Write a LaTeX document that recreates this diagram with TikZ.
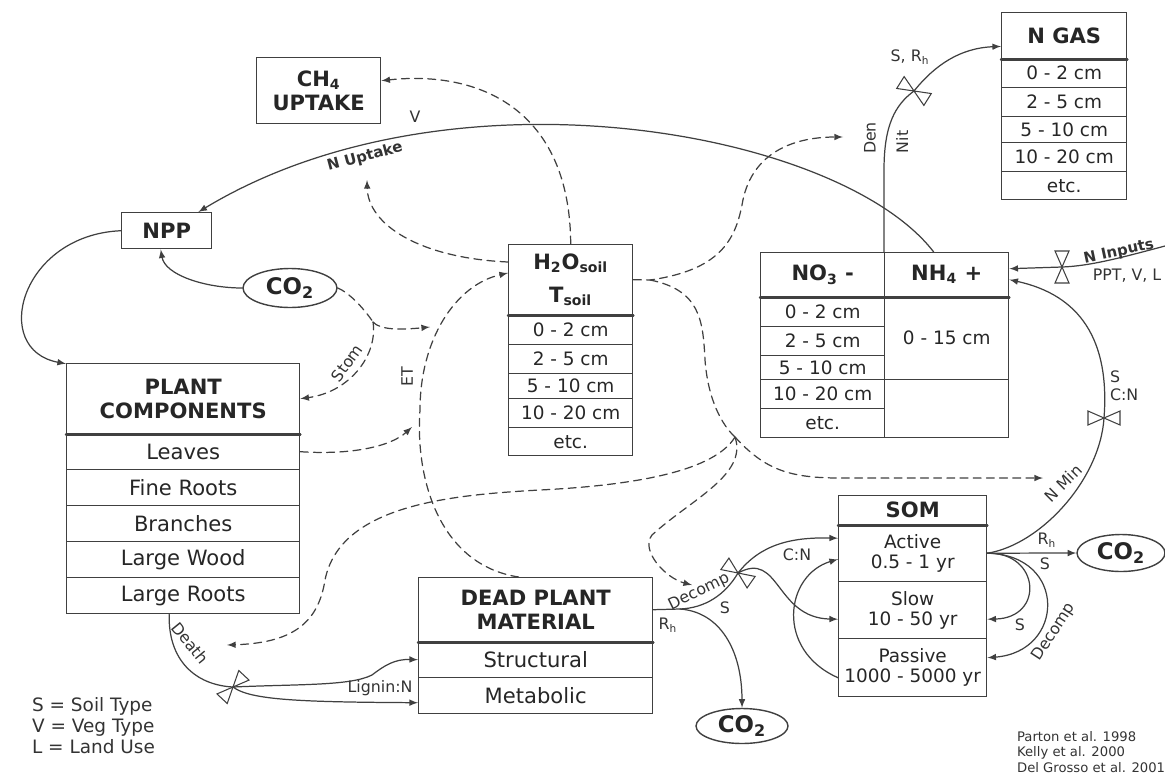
\documentclass[tikz,border=0pt]{standalone}
\usepackage{fontspec}
\setmainfont{DejaVu Sans}
\usetikzlibrary{shapes.geometric}

\begin{document}
\begin{tikzpicture}[
    x=0.02cm, y=-0.02cm, % one unit = one pixel of the sketch
    >=latex,
    line cap=round,
    cell/.style={draw=boxline, line width=0.8pt, inner sep=0pt, anchor=north west, align=center, text=black!85},
    headcell/.style={cell, font=\fontsize{12}{13.6}\selectfont\bfseries},
    rowcell/.style={cell, font=\fontsize{12}{13.6}\selectfont},
    depthcell/.style={cell, font=\fontsize{10.5}{11.6}\selectfont},
    gas/.style={ellipse, draw=boxline, line width=0.8pt, inner sep=0pt, text=black!85, font=\fontsize{13}{14}\selectfont\bfseries},
    flow/.style={draw=boxline, line width=0.7pt},
    ctrl/.style={draw=boxline, line width=0.7pt, dash pattern=on 4.5pt off 3pt},
    lbl/.style={text=black!80, font=\fontsize{9}{10}\selectfont, inner sep=1pt},
    valvestyle/.style={draw=boxline, fill=white, line width=0.6pt}
]

% --- 1. SETTINGS & COLORS ---
\colorlet{boxline}{black!75}
\useasboundingbox (0,0) rectangle (1165,774);

% --- 2. POOLS ---
% Methane and production
\node[headcell, minimum width=2.48cm, minimum height=1.32cm] (ch4) at (256,57) {CH\textsubscript{4}\\UPTAKE};
\node[headcell, minimum width=1.8cm, minimum height=0.72cm] (npp) at (121,212) {NPP};
\node[gas, minimum width=1.88cm, minimum height=0.78cm] (co2a) at (290,288) {CO\textsubscript{2}};

% Soil water and temperature
\node[headcell, minimum width=2.48cm, minimum height=1.4cm, font=\fontsize{12}{18.8}\selectfont\bfseries] (h2o) at (508,244) {H\textsubscript{2}O\textsubscript{soil}\\T\textsubscript{soil}};
\node[depthcell, minimum width=2.48cm, minimum height=0.6cm] (h2oa) at (508,314) {0 - 2 cm};
\node[depthcell, minimum width=2.48cm, minimum height=0.58cm] (h2ob) at (508,344) {2 - 5 cm};
\node[depthcell, minimum width=2.48cm, minimum height=0.5cm] (h2oc) at (508,373) {5 - 10 cm};
\node[depthcell, minimum width=2.48cm, minimum height=0.58cm] (h2od) at (508,398) {10 - 20 cm};
\node[depthcell, minimum width=2.48cm, minimum height=0.56cm] (h2oe) at (508,427) {etc.};

% Mineral nitrogen
\node[headcell, minimum width=2.48cm, minimum height=0.88cm] (no3) at (760,252) {NO\textsubscript{3} -};
\node[headcell, minimum width=2.48cm, minimum height=0.88cm] (nh4) at (884,252) {NH\textsubscript{4} +};
\node[depthcell, minimum width=2.48cm, minimum height=0.6cm] (no3a) at (760,296) {0 - 2 cm};
\node[depthcell, minimum width=2.48cm, minimum height=0.58cm] (no3b) at (760,326) {2 - 5 cm};
\node[depthcell, minimum width=2.48cm, minimum height=0.48cm] (no3c) at (760,355) {5 - 10 cm};
\node[depthcell, minimum width=2.48cm, minimum height=0.58cm] (no3d) at (760,379) {10 - 20 cm};
\node[depthcell, minimum width=2.48cm, minimum height=0.58cm] (no3e) at (760,408) {etc.};
\node[depthcell, minimum width=2.48cm, minimum height=1.66cm] (nh4a) at (884,296) {0 - 15 cm};
\node[depthcell, minimum width=2.48cm, minimum height=1.16cm] (nh4b) at (884,379) {};

% Nitrogen gas
\node[headcell, minimum width=2.5cm, minimum height=0.92cm] (ngas) at (1001,12) {N GAS};
\node[depthcell, minimum width=2.5cm, minimum height=0.58cm] (ngasa) at (1001,58) {0 - 2 cm};
\node[depthcell, minimum width=2.5cm, minimum height=0.58cm] (ngasb) at (1001,87) {2 - 5 cm};
\node[depthcell, minimum width=2.5cm, minimum height=0.52cm] (ngasc) at (1001,116) {5 - 10 cm};
\node[depthcell, minimum width=2.5cm, minimum height=0.58cm] (ngasd) at (1001,142) {10 - 20 cm};
\node[depthcell, minimum width=2.5cm, minimum height=0.56cm] (ngase) at (1001,171) {etc.};

% Plant components
\node[headcell, minimum width=4.66cm, minimum height=1.4cm] (plant) at (66,363) {PLANT\\COMPONENTS};
\node[rowcell, minimum width=4.66cm, minimum height=0.72cm] (leaves) at (66,433) {Leaves};
\node[rowcell, minimum width=4.66cm, minimum height=0.72cm] (fine) at (66,469) {Fine Roots};
\node[rowcell, minimum width=4.66cm, minimum height=0.72cm] (branch) at (66,505) {Branches};
\node[rowcell, minimum width=4.66cm, minimum height=0.72cm] (wood) at (66,541) {Large Wood};
\node[rowcell, minimum width=4.66cm, minimum height=0.72cm] (lroots) at (66,577) {Large Roots};

% Dead plant material
\node[headcell, minimum width=4.68cm, minimum height=1.28cm] (dead) at (418,577) {DEAD PLANT\\MATERIAL};
\node[rowcell, minimum width=4.68cm, minimum height=0.72cm] (struct) at (418,641) {Structural};
\node[rowcell, minimum width=4.68cm, minimum height=0.72cm] (metab) at (418,677) {Metabolic};

% Soil organic matter
\node[headcell, minimum width=2.96cm, minimum height=0.58cm] (som) at (838,495) {SOM};
\node[depthcell, minimum width=2.96cm, minimum height=1.14cm] (active) at (838,524) {Active\\0.5 - 1 yr};
\node[depthcell, minimum width=2.96cm, minimum height=1.14cm] (slow) at (838,581) {Slow\\10 - 50 yr};
\node[depthcell, minimum width=2.96cm, minimum height=1.16cm] (passive) at (838,638) {Passive\\1000 - 5000 yr};

\node[gas, minimum width=1.84cm, minimum height=0.7cm] (co2b) at (742,726) {CO\textsubscript{2}};
\node[gas, minimum width=1.76cm, minimum height=0.74cm] (co2c) at (1121,553) {CO\textsubscript{2}};

% header rules
\draw[boxline, line width=1.4pt] (h2o.south west) -- (h2o.south east);
\draw[boxline, line width=1.4pt] (no3.south west) -- (nh4.south east);
\draw[boxline, line width=1.4pt] (ngas.south west) -- (ngas.south east);
\draw[boxline, line width=1.4pt] (plant.south west) -- (plant.south east);
\draw[boxline, line width=1.4pt] (dead.south west) -- (dead.south east);
\draw[boxline, line width=1.4pt] (som.south west) -- (som.south east);

% --- 3. JUNCTIONS ---
\coordinate (vdeath) at (233,687);
\coordinate (vdecomp) at (738,573);
\coordinate (vgas) at (914,91);
\coordinate (vin) at (1062,267);
\coordinate (vmin) at (1104,418);
\coordinate (hub) at (735,437);
\coordinate (h2oj) at (650,280);
\coordinate (stomj) at (373,322);
\coordinate (etpt) at (420,410);
\coordinate (etco2) at (430,327);
\coordinate (etleaf) at (412,427);
\coordinate (nuptk) at (367,180);
\coordinate (dentip) at (843,137);
\coordinate (deathtip) at (227,645);
\coordinate (dectip) at (692,585);
\coordinate (nmintip) at (1043,478);
\coordinate (ninsrc) at (1165,246);
\coordinate (litfork) at (680,609);

% --- 4. CONTROLS (dashed) ---
\draw[ctrl, ->] (h2o.north) .. controls (570,110) and (480,70) .. ([yshift=0.2cm]ch4.east);
\draw[ctrl, ->] ([yshift=-0.36cm]h2o.north west) .. controls (420,258) and (368,225) .. (nuptk);
\draw[ctrl, ->] ([xshift=-0.34cm]dead.north) .. controls (440,565) and (415,480) .. (etpt) .. controls (420,340) and (455,285) .. ([yshift=-0.58cm]h2o.north west);
\draw[ctrl] (co2a.east) .. controls (350,293) and (365,310) .. (stomj);
\draw[ctrl, ->] (stomj) .. controls (380,330) and (400,330) .. (etco2);
\draw[ctrl, ->] (stomj) .. controls (378,355) and (350,392) .. (plant.east);
\draw[ctrl, ->] (leaves.east) .. controls (350,455) and (390,447) .. (etleaf);
\draw[ctrl, ->] (h2o.east) -- (h2oj) .. controls (720,270) and (735,240) .. (742,205) .. controls (750,155) and (790,137) .. (dentip);
\draw[ctrl] (h2oj) .. controls (700,290) and (703,320) .. (705,360) .. controls (708,400) and (722,425) .. (hub);
\draw[ctrl, ->] (hub) .. controls (715,470) and (640,485) .. (540,490) .. controls (450,495) and (340,505) .. (325,580) .. controls (318,625) and (290,643) .. (deathtip);
\draw[ctrl, ->] (hub) .. controls (748,475) and (690,500) .. (652,535) .. controls (640,550) and (665,578) .. (dectip);
\draw[ctrl, ->] (hub) .. controls (765,470) and (790,478) .. (840,478) -- (nmintip);

% --- 5. FLOWS (solid) ---
% N uptake
\draw[flow, ->] ([xshift=-0.26cm]nh4.north) .. controls (840,130) and (450,60) .. ([xshift=-0.28cm]npp.north east);
% photosynthesis and allocation
\draw[flow, ->] (co2a.west) .. controls (205,288) and (165,275) .. ([xshift=-0.12cm]npp.south);
\draw[flow, ->] (npp.west) .. controls (20,235) and (-10,350) .. ([yshift=0.7cm]plant.west);
% nitrification / denitrification
\draw[flow, ->] (nh4.north west) -- (884,170) .. controls (884,125) and (895,105) .. (vgas) .. controls (935,65) and (960,48) .. ([yshift=0.26cm]ngas.south west);
% N inputs
\draw[flow, ->] (ninsrc) .. controls (1120,258) and (1090,266) .. (vin) -- ([yshift=0.12cm]nh4.east);
% N mineralisation
\draw[flow, ->] (active.east) .. controls (1040,545) and (1100,480) .. (vmin) .. controls (1110,340) and (1080,295) .. ([yshift=-0.1cm]nh4.east);
% SOM
\draw[flow, ->] (active.east) -- (co2c.west);
\draw[flow, ->] (active.east) .. controls (1040,552) and (1045,618) .. ([yshift=-0.18cm]slow.east);
\draw[flow, ->] (active.east) .. controls (1068,555) and (1065,652) .. ([yshift=0.2cm]passive.east);
\draw[flow, ->] ([yshift=-0.2cm]passive.west) .. controls (775,650) and (785,575) .. ([yshift=-0.12cm]active.west);
% litter decomposition
\draw[flow] (dead.east) -- (litfork) .. controls (705,608) and (725,595) .. (vdecomp);
\draw[flow, ->] (litfork) .. controls (720,612) and (742,650) .. (co2b.north);
\draw[flow, ->] (vdecomp) .. controls (760,545) and (790,537) .. ([yshift=0.3cm]active.west);
\draw[flow, ->] (vdecomp) .. controls (780,550) and (775,618) .. ([yshift=-0.18cm]slow.west);
% death
\draw[flow] ([xshift=-0.28cm]lroots.south) .. controls (168,660) and (195,685) .. (vdeath);
\draw[flow, ->] (vdeath) .. controls (300,684) and (350,686) .. (372,675) .. controls (385,665) and (395,659) .. (struct.west);
\draw[flow, ->] (vdeath) .. controls (250,700) and (300,702) .. ([yshift=-0.14cm]metab.west);

% --- 6. VALVES ---
\draw[valvestyle, shift={(vgas)}, rotate=58] (0,0) -- (-7,16) -- (7,16) -- cycle (0,0) -- (-7,-16) -- (7,-16) -- cycle;
\draw[valvestyle, shift={(vin)}] (0,0) -- (-7,16) -- (7,16) -- cycle (0,0) -- (-7,-16) -- (7,-16) -- cycle;
\draw[valvestyle, shift={(vmin)}, rotate=90] (0,0) -- (-7,16) -- (7,16) -- cycle (0,0) -- (-7,-16) -- (7,-16) -- cycle;
\draw[valvestyle, shift={(vdecomp)}, rotate=55] (0,0) -- (-7,16) -- (7,16) -- cycle (0,0) -- (-7,-16) -- (7,-16) -- cycle;
\draw[valvestyle, shift={(vdeath)}, rotate=-43] (0,0) -- (-7,16) -- (7,16) -- cycle (0,0) -- (-7,-16) -- (7,-16) -- cycle;

% --- 7. LABELS ---
\node[lbl] (vlbl) at (415,117) {V};
\node[lbl, rotate=15, font=\fontsize{8.5}{10}\selectfont\bfseries] (nuplbl) at (365,157) {N Uptake};
\node[lbl, rotate=54] (stomlbl) at (347,363) {Stom};
\node[lbl, rotate=90] (etlbl) at (407,377) {ET};
\node[lbl, rotate=90] (denlbl) at (870,138) {Den};
\node[lbl, rotate=90] (nitlbl) at (902,142) {Nit};
\node[lbl] (srhlbl) at (910,57) {S, R\textsubscript{h}};
\node[lbl, rotate=12, font=\fontsize{8.5}{10}\selectfont\bfseries] (ninlbl) at (1119,252) {N Inputs};
\node[lbl] (pptlbl) at (1127,276) {PPT, V, L};
\node[lbl, anchor=west, align=left, font=\fontsize{9}{10.2}\selectfont] (scnlbl) at (1108,386) {S\\C:N};
\node[lbl, rotate=45] (nminlbl) at (1063,483) {N Min};
\node[lbl] (rhclbl) at (1047,540) {R\textsubscript{h}};
\node[lbl] (sclbl) at (1045,564) {S};
\node[lbl] (sslbl) at (1020,625) {S};
\node[lbl, rotate=57] (sdeclbl) at (1054,632) {Decomp};
\node[lbl] (cnlbl) at (797,555) {C:N};
\node[lbl, rotate=26] (ldeclbl) at (699,592) {Decomp};
\node[lbl] (lslbl) at (725,608) {S};
\node[lbl] (lrhlbl) at (668,625) {R\textsubscript{h}};
\node[lbl, rotate=-51] (deathlbl) at (190,643) {Death};
\node[lbl] (ligninlbl) at (380,688) {Lignin:N};

% legend and sources
\node[lbl, anchor=west, align=left, font=\fontsize{10.5}{12}\selectfont] (legend) at (30,726) {S = Soil Type\\V = Veg Type\\L = Land Use};
\node[lbl, anchor=west, align=left, font=\fontsize{7.5}{8.6}\selectfont] (refs) at (1015,752) {Parton et al. 1998\\Kelly et al. 2000\\Del Grosso et al. 2001};

\end{tikzpicture}
\end{document}
